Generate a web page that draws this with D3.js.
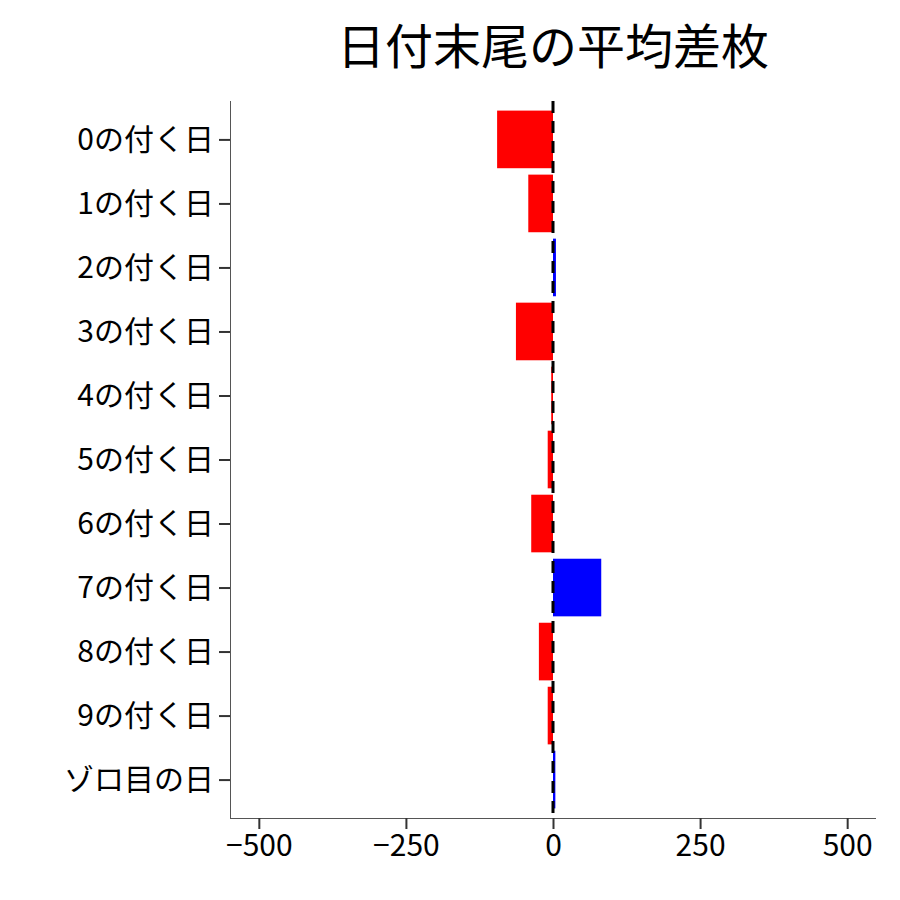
<!DOCTYPE html>
<html><head><meta charset="utf-8">
<script src="https://cdn.jsdelivr.net/npm/d3@7"></script>
<style>body{margin:0;background:#fff}text{font-family:"Noto Sans CJK JP","Noto Sans",sans-serif}</style>
</head><body><svg id="c" width="900" height="900"></svg>
<script>
const categories = ["0の付く日","1の付く日","2の付く日","3の付く日","4の付く日","5の付く日","6の付く日","7の付く日","8の付く日","9の付く日","ゾロ目の日"];
const values = [-95, -42, 5, -63, -3, -9, -37, 82, -24, -9, 4];
const xTicks = [-500, -250, 0, 250, 500];

const svg = d3.select("#c");
const plotLeft = 230, plotRight = 876, plotTop = 101, plotBottom = 818;

const x = d3.scaleLinear().domain([-549, 549]).range([plotLeft, plotRight]);
// discrete scale with 0.6 expansion each side
const y = d3.scaleLinear().domain([0.4, 11.6]).range([plotTop, plotBottom]);
const unit = y(2) - y(1);

svg.append("text").attr("x", 553).attr("y", 64).attr("text-anchor", "middle")
    .attr("font-size", 48).text("日付末尾の平均差枚");

svg.selectAll("rect.bar").data(values).enter().append("rect")
    .attr("x", d => x(Math.min(0, d)))
    .attr("width", d => Math.abs(x(d) - x(0)))
    .attr("y", (d, i) => y(i + 1) - unit * 0.45)
    .attr("height", unit * 0.9)
    .attr("fill", d => d < 0 ? "#ff0000" : "#0000ff");

svg.append("line").attr("x1", x(0)).attr("x2", x(0)).attr("y1", plotTop).attr("y2", plotBottom)
    .attr("stroke", "#000").attr("stroke-width", 3).attr("stroke-dasharray", "12,8");

const ax = svg.append("g").attr("transform", `translate(0,${plotBottom})`)
    .call(d3.axisBottom(x).tickValues(xTicks).tickSize(11).tickPadding(6));
ax.select(".domain").attr("d", `M${plotLeft},0.5H${plotRight}`).attr("stroke", "#555");
ax.selectAll(".tick line").attr("stroke", "#333").attr("stroke-width", 2);
ax.selectAll("text").attr("font-size", 30).attr("fill", "#000")
    .style("font-family", '"Noto Sans CJK JP"');

const ay = svg.append("g").attr("transform", `translate(${plotLeft},0)`)
    .call(d3.axisLeft(y).tickValues(d3.range(1, 12)).tickFormat(i => categories[i - 1]).tickSize(11).tickPadding(5));
ay.select(".domain").attr("d", `M0.5,${plotTop}V${plotBottom}`).attr("stroke", "#555");
ay.selectAll(".tick line").attr("stroke", "#333").attr("stroke-width", 2);
ay.selectAll("text").attr("font-size", 30).attr("fill", "#000")
    .style("font-family", '"Noto Sans CJK JP"');
</script></body></html>
